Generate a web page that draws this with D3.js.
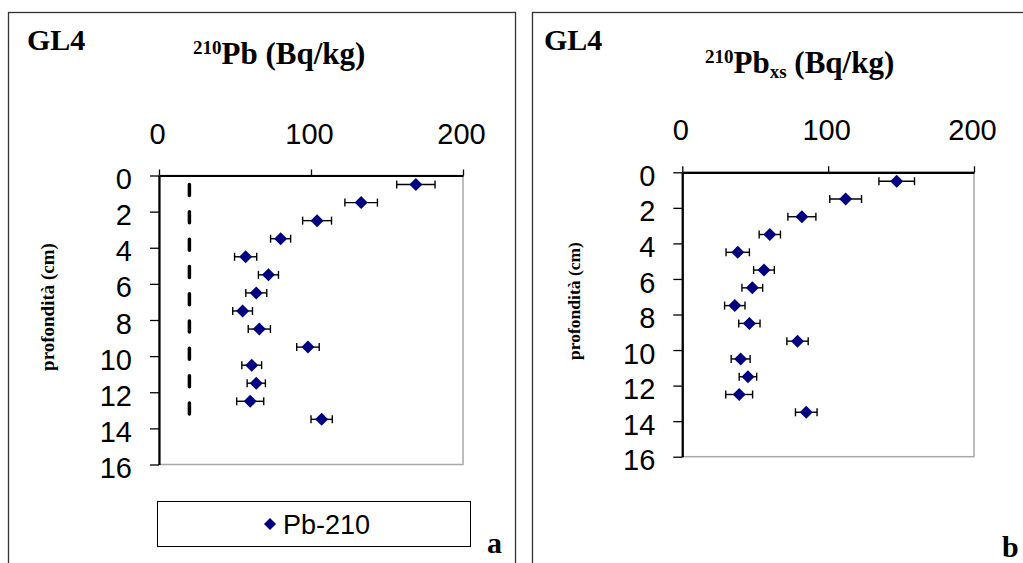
<!DOCTYPE html>
<html>
<head>
<meta charset="utf-8">
<script src="https://cdn.jsdelivr.net/npm/d3@7"></script>
<style>
  body { margin: 0; background: #fff; }
  svg { display: block; }
</style>
</head>
<body>
<svg id="chart" width="1023" height="563"></svg>
<script>
// depth of each slice (cm), midpoints
const depth = [0.5, 1.5, 2.5, 3.5, 4.5, 5.5, 6.5, 7.5, 8.5, 9.5, 10.5, 11.5, 12.5, 13.5];
// total 210Pb (Bq/kg) and its error
const pb210 = [169, 133, 104, 80, 57, 72, 64, 55, 66, 98, 61, 64, 60, 107];
const pb210Err = [12.6, 10.7, 9.5, 6.6, 7.3, 6.6, 6.9, 6.5, 7.3, 7.4, 6.5, 6, 8.9, 7];
// supported 210Pb level (dashed line)
const suppDepth = [0.5, 13.5];
const suppValue = [20, 20];
// excess 210Pb (Bq/kg) and its error
const pbxs = [147, 112, 82, 60, 38, 56, 48, 36, 46, 79, 40, 45, 39, 85];
const pbxsErr = [12.2, 10.9, 9.6, 7.3, 8, 7.1, 7.1, 7, 7.3, 7.3, 6.5, 6, 9.2, 7.4];

const xTicks = [0, 100, 200];
const yTicks = [0, 2, 4, 6, 8, 10, 12, 14, 16];

const svg = d3.select("#chart");
const serif = "'Liberation Serif', 'Times New Roman', serif";
const sans = "'Liberation Sans', Arial, sans-serif";

// panel frames
svg.append("rect").attr("x", 8.5).attr("y", 12.5).attr("width", 507).attr("height", 600)
  .attr("fill", "none").attr("stroke", "#333").attr("stroke-width", 1.3);
svg.append("rect").attr("x", 532.5).attr("y", 12.5).attr("width", 600).attr("height", 600)
  .attr("fill", "none").attr("stroke", "#333").attr("stroke-width", 1.3);

function drawPanel(p) {
  const x = d3.scaleLinear().domain([0, 200]).range([p.left, p.right]);
  const y = d3.scaleLinear().domain([0, 16]).range([p.top, p.bottom]);

  // grey plot-area border (right/bottom)
  svg.append("rect")
    .attr("x", p.left).attr("y", p.top)
    .attr("width", p.right - p.left).attr("height", p.bottom - p.top)
    .attr("fill", "none").attr("stroke", "#a8a8a8").attr("stroke-width", 1.5);

  const gx = svg.append("g")
    .attr("transform", `translate(0,${p.top})`)
    .call(d3.axisTop(x).tickValues(xTicks).tickSize(6).tickSizeOuter(0).tickPadding(p.xPad));
  const gy = svg.append("g")
    .attr("transform", `translate(${p.left},0)`)
    .call(d3.axisLeft(y).tickValues(yTicks).tickSize(9).tickSizeOuter(0).tickPadding(p.yPad));

  [gx, gy].forEach(g => {
    g.select(".domain").attr("stroke", "#000").attr("stroke-width", 2.2);
    g.selectAll(".tick line").attr("stroke", "#000").attr("stroke-width", 1.3);
    g.selectAll("text").attr("font-family", sans).attr("font-size", p.tickFont).attr("fill", "#000");
  });
  gy.selectAll("text").attr("dy", "0.45em");
  gx.selectAll("text").attr("dx", -2);

  if (p.supp) {
    svg.append("path")
      .datum(d3.range(suppDepth.length))
      .attr("fill", "none").attr("stroke", "#000").attr("stroke-width", 3.5)
      .attr("stroke-linecap", "round").attr("stroke-dasharray", "11,16.3")
      .attr("d", d3.line().x(i => x(suppValue[i])).y(i => y(suppDepth[i])));
  }

  const pts = svg.append("g").selectAll("g").data(depth).join("g");
  pts.append("line")
    .attr("x1", (d, i) => x(p.values[i] - p.errs[i])).attr("x2", (d, i) => x(p.values[i] + p.errs[i]))
    .attr("y1", d => y(d)).attr("y2", d => y(d))
    .attr("stroke", "#000").attr("stroke-width", 1.4);
  [-1, 1].forEach(s => {
    pts.append("line")
      .attr("x1", (d, i) => x(p.values[i] + s * p.errs[i])).attr("x2", (d, i) => x(p.values[i] + s * p.errs[i]))
      .attr("y1", d => y(d) - 4).attr("y2", d => y(d) + 4)
      .attr("stroke", "#000").attr("stroke-width", 1.4);
  });
  pts.append("path")
    .attr("transform", (d, i) => `translate(${x(p.values[i])},${y(d)})`)
    .attr("d", "M0,-6.5L6.5,0L0,6.5L-6.5,0Z")
    .attr("fill", "#000080");

  // y axis title
  svg.append("text")
    .attr("transform", `translate(${p.ylabX},${p.ylabY}) rotate(-90)`)
    .attr("text-anchor", "middle")
    .attr("font-family", serif).attr("font-weight", "bold").attr("font-size", p.ylabFont)
    .text("profondità (cm)");

  // site label
  svg.append("text").attr("x", p.gx).attr("y", 50)
    .attr("font-family", serif).attr("font-weight", "bold").attr("font-size", 30)
    .text("GL4");
}

drawPanel({
  left: 159, right: 463, top: 175.5, bottom: 464.5,
  xPad: 26, yPad: 18, tickFont: 29,
  values: pb210, errs: pb210Err, supp: true,
  ylabX: 54, ylabY: 307, ylabFont: 19, gx: 27
});
drawPanel({
  left: 682.3, right: 974, top: 172.3, bottom: 456.7,
  xPad: 26, yPad: 18, tickFont: 29,
  values: pbxs, errs: pbxsErr, supp: false,
  ylabX: 580, ylabY: 301, ylabFont: 17.5, gx: 544
});

// x axis titles
const t1 = svg.append("text").attr("x", 193).attr("y", 64)
  .attr("font-family", serif).attr("font-weight", "bold").attr("font-size", 31);
t1.append("tspan").attr("font-size", 19).attr("dy", -10).text("210");
t1.append("tspan").attr("dy", 10).text("Pb (Bq/kg)");

const t2 = svg.append("text").attr("x", 705).attr("y", 73)
  .attr("font-family", serif).attr("font-weight", "bold").attr("font-size", 31);
t2.append("tspan").attr("font-size", 19).attr("dy", -10).text("210");
t2.append("tspan").attr("dy", 10).text("Pb");
t2.append("tspan").attr("font-size", 19).attr("dy", 5).text("xs");
t2.append("tspan").attr("dy", -5).text(" (Bq/kg)");

// legend
svg.append("rect").attr("x", 157.5).attr("y", 501.5).attr("width", 313).attr("height", 45)
  .attr("fill", "#fff").attr("stroke", "#000").attr("stroke-width", 1);
svg.append("path").attr("transform", "translate(270,524)")
  .attr("d", "M0,-6L6,0L0,6L-6,0Z").attr("fill", "#000080");
svg.append("text").attr("x", 283).attr("y", 534)
  .attr("font-family", sans).attr("font-size", 27).text("Pb-210");

// panel letters
svg.append("text").attr("x", 487).attr("y", 553)
  .attr("font-family", serif).attr("font-weight", "bold").attr("font-size", 30).text("a");
svg.append("text").attr("x", 1002).attr("y", 557)
  .attr("font-family", serif).attr("font-weight", "bold").attr("font-size", 30).text("b");
</script>
</body>
</html>
